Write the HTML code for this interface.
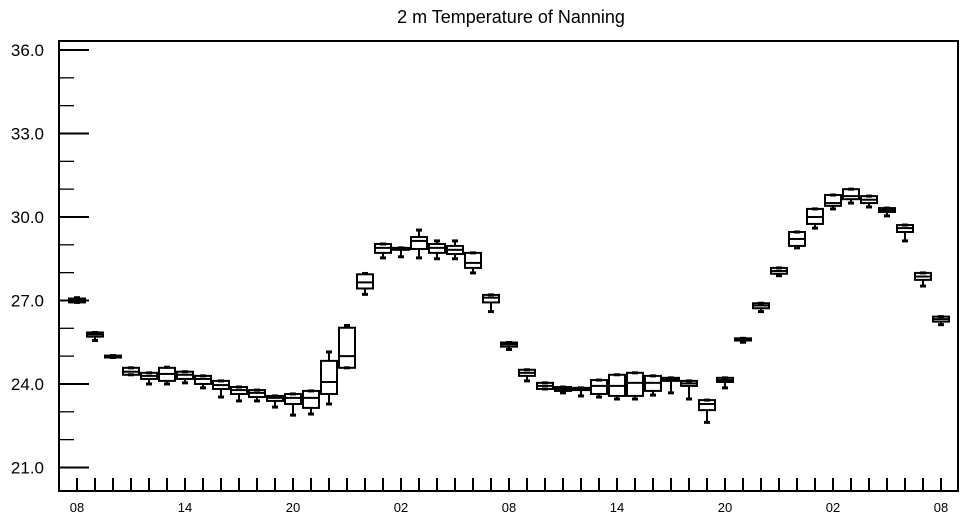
<!DOCTYPE html>
<html><head><meta charset="utf-8"><style>
body{margin:0;background:#fff}
svg{display:block;font-family:"Liberation Sans",sans-serif}
</style></head><body>
<svg id="c" width="964" height="520" viewBox="0 0 964 520">
<text x="511" y="23" font-size="18" text-anchor="middle">2 m Temperature of Nanning</text>
<rect x="59" y="41" width="899" height="450" fill="none" stroke="#000" stroke-width="2"/>
<g id="axes"></g>
<g id="boxes"></g>
</svg>
<script>
// hourly boxes: min, q1, median, q3, max
const mins=[26.93,25.56,24.95,24.33,24.0,24.0,24.04,23.86,23.53,23.39,23.39,23.17,22.88,22.92,23.28,24.58,27.22,28.53,28.57,28.53,28.5,28.5,27.99,26.6,25.24,24.11,23.82,23.68,23.57,23.53,23.46,23.46,23.6,23.68,23.46,22.62,23.86,25.5,26.6,27.89,28.89,29.6,30.29,30.5,30.36,30.04,29.14,27.52,26.13];
const q1s=[26.93,25.7,24.95,24.33,24.18,24.11,24.18,24.0,23.82,23.64,23.53,23.39,23.28,23.14,23.64,24.58,27.43,28.71,28.82,28.85,28.71,28.67,28.17,26.93,25.34,24.29,23.82,23.75,23.78,23.64,23.57,23.57,23.75,24.11,23.93,23.06,24.07,25.56,26.72,27.96,28.96,29.75,30.4,30.64,30.5,30.18,29.46,27.74,26.24];
const medians=[27.0,25.78,24.98,24.44,24.29,24.36,24.33,24.18,23.96,23.78,23.68,23.5,23.5,23.5,24.07,25.0,27.65,28.89,28.86,29.14,28.89,28.82,28.35,27.1,25.42,24.4,23.93,23.82,23.82,23.93,23.93,24.04,24.04,24.16,24.02,23.28,24.14,25.6,26.82,28.06,29.21,30.0,30.5,30.75,30.62,30.25,29.6,27.86,26.33];
const q3s=[27.07,25.85,25.02,24.58,24.4,24.58,24.44,24.29,24.11,23.89,23.78,23.57,23.64,23.75,24.83,26.02,27.94,29.03,28.89,29.28,29.03,28.96,28.71,27.2,25.49,24.51,24.04,23.89,23.86,24.14,24.33,24.4,24.29,24.22,24.11,23.42,24.22,25.64,26.9,28.17,29.46,30.29,30.79,31.0,30.75,30.32,29.71,27.99,26.42];
const maxs=[27.1,25.85,25.02,24.58,24.4,24.6,24.44,24.29,24.11,23.89,23.78,23.57,23.64,23.75,25.15,26.1,27.97,29.03,28.89,29.53,29.14,29.14,28.71,27.2,25.49,24.51,24.04,23.89,23.86,24.14,24.33,24.4,24.29,24.22,24.11,23.42,24.22,25.64,26.9,28.17,29.46,30.29,30.79,31.0,30.75,30.32,29.71,27.99,26.42];
const yTicks=[21,24,27,30,33,36];
const xLabels=["08","14","20","02","08","14","20","02","08"];
const NS="http://www.w3.org/2000/svg";
const yS=v=>50+(36-v)*27.83;
const xS=i=>77+18*i;
function mk(tag,attrs,parent,text){const e=document.createElementNS(NS,tag);for(const k in attrs)e.setAttribute(k,attrs[k]);if(text!=null)e.textContent=text;parent.appendChild(e);return e;}
const ax=document.getElementById('axes');
for(let v=21;v<=36;v++){
  const major=yTicks.includes(v);
  const t=mk('line',{x1:59,x2:major?89:74,y1:yS(v),y2:yS(v),stroke:'#000','stroke-width':major?2:1.3},ax);
  
  
}
yTicks.forEach(v=>{
  const l=mk('text',{x:44,y:yS(v)+6,'font-size':17,'text-anchor':'end'},ax,v.toFixed(1));
  
  
});
for(let i=0;i<mins.length;i++){
  const t=mk('line',{x1:xS(i),x2:xS(i),y1:478,y2:491,stroke:'#000','stroke-width':2},ax);
  
  
}
xLabels.forEach((s,k)=>{
  const l=mk('text',{x:xS(k*6),y:512,'font-size':13,'text-anchor':'middle'},ax,s);
  
  
});
const bx=document.getElementById('boxes');
for(let i=0;i<mins.length;i++){
  const g=mk('g',{stroke:'#000','stroke-width':2,fill:'none'},bx);
  
  
  const x=xS(i),w=16;
  mk('line',{x1:x,x2:x,y1:yS(mins[i]),y2:yS(q1s[i])},g);
  mk('line',{x1:x,x2:x,y1:yS(maxs[i]),y2:yS(q3s[i])},g);
  mk('line',{x1:x-3,x2:x+3,y1:yS(mins[i]),y2:yS(mins[i]),'stroke-width':3},g);
  mk('line',{x1:x-3,x2:x+3,y1:yS(maxs[i]),y2:yS(maxs[i]),'stroke-width':3},g);
  const top=yS(q3s[i]),bot=yS(q1s[i]);
  mk('rect',{x:x-w/2,y:top,width:w,height:Math.max(bot-top,1.5)},g);
  mk('line',{x1:x-w/2,x2:x+w/2,y1:yS(medians[i]),y2:yS(medians[i])},g);
}
</script>
</body></html>
